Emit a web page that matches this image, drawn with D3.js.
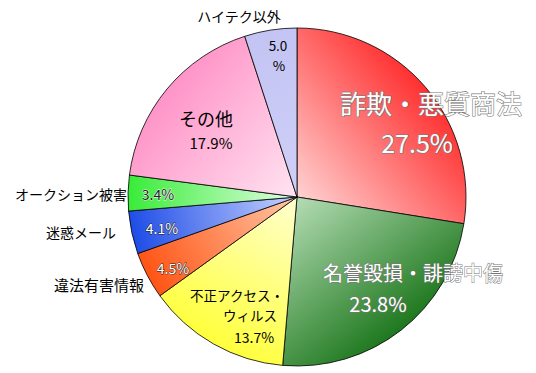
<!DOCTYPE html>
<html>
<head>
<meta charset="utf-8">
<script src="https://cdn.jsdelivr.net/npm/d3@7"></script>
<style>
  body { margin: 0; background: #fff; }
  svg { display: block; font-family: "Noto Sans CJK JP", "Noto Sans", sans-serif; }
</style>
</head>
<body>
<svg id="chart" width="536" height="373"></svg>
<script>
// categories / values (clockwise from 12 o'clock)
var categories = ["詐欺・悪質商法", "名誉毀損・誹謗中傷", "不正アクセス・ウィルス", "違法有害情報",
                  "迷惑メール", "オークション被害", "その他", "ハイテク以外"]
var values = [27.5, 23.8, 13.7, 4.5, 4.1, 3.4, 17.9, 5.0]

// inner (light) and outer (dark) colours for each slice
var innerColors = ["#ffd2d2", "#b4dcb4", "#ffffd0", "#ffc8a8", "#c8d4ff", "#e4ffe4", "#ffe4f1", "#cfcff8"]
var outerColors = ["#ff3030", "#1e781e", "#ffff3c", "#ff5414", "#1e4ce6", "#38ec38", "#ff94c8", "#c4c4f4"]

var width = 536, height = 373
var cx = 297, cy = 197, radius = 169

var svg = d3.select("#chart")
var defs = svg.append("defs")
var g = svg.append("g").attr("transform", "translate(" + cx + "," + cy + ")")

var pie = d3.pie().sort(null).value(function(d) { return d })
var arc = d3.arc().innerRadius(0).outerRadius(radius)
var arcs = pie(values)

arcs.forEach(function(a, i) {
    var mid = (a.startAngle + a.endAngle) / 2
    var grad = defs.append("linearGradient")
        .attr("id", "grad" + i)
        .attr("gradientUnits", "userSpaceOnUse")
        .attr("x1", 0).attr("y1", 0)
        .attr("x2", Math.sin(mid) * radius)
        .attr("y2", -Math.cos(mid) * radius)
    grad.append("stop").attr("offset", "0%").attr("stop-color", innerColors[i])
    grad.append("stop").attr("offset", "100%").attr("stop-color", outerColors[i])
})

g.selectAll("path.slice")
    .data(arcs)
    .enter().append("path")
    .attr("class", "slice")
    .attr("d", arc)
    .style("fill", function(d, i) { return "url(#grad" + i + ")" })
    .style("stroke", "#000")
    .style("stroke-width", 0.8)

// label layout: offsets from pie centre (multi-line labels wrap with tspans)
var labels = [
    // big ones
    { lines: [categories[0]], x: 134, y: -95, size: 26, fill: "#fff", stroke: "#777", sw: 1.2 },
    { lines: [values[0].toFixed(1) + "%"], x: 120, y: -55, size: 25, fill: "#fff", stroke: "#777", sw: 1.2 },
    { lines: [categories[1]], x: 116, y: 75, size: 20, fill: "#fff", stroke: "#777", sw: 1 },
    { lines: [values[1].toFixed(1) + "%"], x: 81, y: 106, size: 20, fill: "#fff", stroke: "#777", sw: 1 },
    // yellow
    { lines: ["不正アクセス・", "ウィルス"], dx: [0, 13], x: -60, y: 98, size: 13.5, lh: 19.6, fill: "#000" },
    { lines: [values[2].toFixed(1) + "%"], x: -43, y: 140, size: 14, fill: "#000" },
    // small slices
    { lines: [values[3].toFixed(1) + "%"], x: -124, y: 71, size: 14, fill: "#fff", stroke: "#222", sw: 0.8 },
    { lines: [categories[3]], x: -198, y: 87, size: 15, fill: "#000" },
    { lines: [values[4].toFixed(1) + "%"], x: -135, y: 31, size: 14, fill: "#fff", stroke: "#222", sw: 0.8 },
    { lines: [categories[4]], x: -216, y: 35, size: 14, fill: "#000" },
    { lines: [values[5].toFixed(1) + "%"], x: -139, y: -3, size: 14, fill: "#222", stroke: "#fff", sw: 0.8 },
    { lines: [categories[5]], x: -226, y: -3, size: 14, fill: "#000" },
    // pink
    { lines: [categories[6]], x: -91, y: -79, size: 18, fill: "#000" },
    { lines: [values[6].toFixed(1) + "%"], x: -86, y: -55, size: 15, fill: "#000" },
    // lavender
    { lines: [values[7].toFixed(1), "%"], dx: [0, 1], x: -19, y: -152, size: 13.5, lh: 19.6, fill: "#000" },
    { lines: [categories[7]], x: -58, y: -181, size: 14, fill: "#000" }
]

labels.forEach(function(l) {
    var t = g.append("text")
        .attr("text-anchor", "middle")
        .attr("dominant-baseline", "central")
        .style("font-size", l.size + "px")
        .style("fill", l.fill)
    l.lines.forEach(function(line, j) {
        t.append("tspan")
            .attr("x", l.x + (l.dx ? l.dx[j] : 0))
            .attr("y", l.y + j * (l.lh || 0))
            .text(line)
    })
    if (l.stroke) {
        t.style("stroke", l.stroke)
         .style("stroke-width", l.sw)
         .style("paint-order", "stroke")
    }
})
</script>
</body>
</html>
